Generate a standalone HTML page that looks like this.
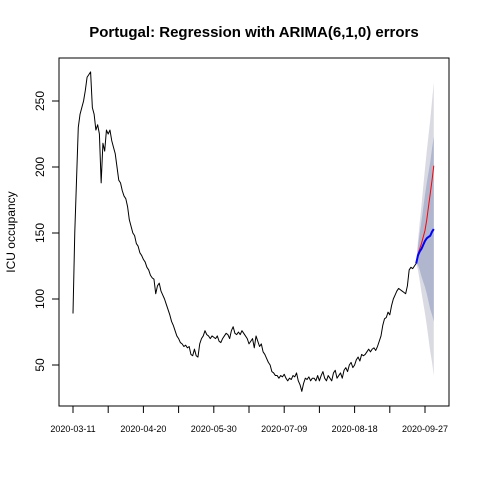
<!DOCTYPE html>
<html><head><meta charset="utf-8"><style>
body{margin:0;background:#fff}
svg{display:block;font-family:"Liberation Sans",sans-serif}
</style></head><body>
<svg id="chart" width="480" height="480">
<rect width="480" height="480" fill="#fff"/>
<text x="254" y="37" text-anchor="middle" font-size="15" font-weight="bold">Portugal: Regression with ARIMA(6,1,0) errors</text>
<text transform="translate(15,232) rotate(-90)" text-anchor="middle" font-size="12">ICU occupancy</text>
<rect x="59" y="58" width="390" height="348" fill="none" stroke="#000" stroke-width="1"/>
<g id="bands"></g><g id="lines"></g><g id="axes"></g>
</svg>
<script>
const observed=[89,150,190,230,240,245,250,258,268,270,
272,245,240,228,232,225,188,218,212,228,
225,228,220,215,210,200,190,188,182,178,
176,170,160,155,150,148,142,140,135,133,
130,128,124,122,118,116,115,104,110,112,
106,103,100,96,92,88,83,80,76,72,
70,67,66,64,65,63,64,58,57,62,
57,56,66,70,72,76,73,72,70,72,
71,70,72,68,67,70,72,74,73,70,
76,79,74,73,75,73,76,74,72,70,
66,68,70,63,72,68,64,66,60,58,
55,52,50,45,44,42,42,40,42,41,
43,40,38,40,39,42,41,44,38,35,
30,36,40,39,41,38,40,40,38,42,
38,42,45,40,38,42,40,38,44,46,
40,42,44,40,46,48,45,50,52,48,
50,54,56,53,58,57,58,60,62,60,
62,63,61,64,68,72,80,85,86,90,
88,95,100,103,106,108,107,106,105,104,
110,122,124,123,125,127];
const forecastMean=[133,136,138,141,144,146,147,148,151,153];
const actual=[134,138,142,147,152,160,170,180,190,201];
const hi80=[140,150,159,169,179,188,196,204,214,223];
const lo80=[126,122,117,113,109,104,98,92,88,83];
const hi95=[144,158,171,185,199,212,224,236,250,264];
const lo95=[122,114,105,97,89,80,70,60,52,42];
const yTicks=[50,100,150,200,250];
const xTickLabels=["2020-03-11","2020-04-20","2020-05-30","2020-07-09","2020-08-18","2020-09-27"];
const xTickDays=[0,40,80,120,160,200];
const minorDays=[20,60,100,140,180];

const NS="http://www.w3.org/2000/svg";
const X=d=>73+d*1.76;
const Y=v=>365-(v-50)*1.32;
function mk(t,a,p){const e=document.createElementNS(NS,t);for(const k in a)e.setAttribute(k,a[k]);p.appendChild(e);return e;}
const bands=document.getElementById('bands'),lines=document.getElementById('lines'),axes=document.getElementById('axes');
const n0=observed.length-1;
function band(hi,lo,fill,name){
  let pts=[[X(n0),Y(observed[n0])]];
  hi.forEach((v,i)=>pts.push([X(n0+1+i),Y(v)]));
  for(let i=lo.length-1;i>=0;i--)pts.push([X(n0+1+i),Y(lo[i])]);
  const p=mk('polygon',{points:pts.map(q=>q.join(',')).join(' '),fill:fill},bands);
  
  
}
band(hi95,lo95,'#dadae3','prediction-band-95');
band(hi80,lo80,'#b1b6cf','prediction-band-80');
function line(vals,start,col,w,name,prefix){
  let pts=prefix?[[X(n0),Y(observed[n0])]]:[];
  vals.forEach((v,i)=>pts.push([X(start+i),Y(v)]));
  const p=mk('polyline',{points:pts.map(q=>q.join(',')).join(' '),fill:'none',stroke:col,'stroke-width':w,'stroke-linejoin':'round'},lines);
  
  
}
line(observed,0,'#000',1,'observed-line',false);
line(actual,n0+1,'#ff0000',1,'actual-line',true);
line(forecastMean,n0+1,'#0000ff',2,'forecast-mean-line',true);
yTicks.forEach(v=>{
  const t=mk('line',{x1:52,x2:59,y1:Y(v),y2:Y(v),stroke:'#000'},axes);
  
  
  const l=mk('text',{transform:`translate(44,${Y(v)}) rotate(-90)`,'text-anchor':'middle','font-size':12},axes);
  l.textContent=v;
  
  
});
xTickDays.forEach((d,i)=>{
  const t=mk('line',{x1:X(d),x2:X(d),y1:406,y2:413,stroke:'#000'},axes);
  
  
  const l=mk('text',{x:X(d),y:432,'text-anchor':'middle','font-size':9},axes);
  l.textContent=xTickLabels[i];
  
  
});
minorDays.forEach(d=>{
  const t=mk('line',{x1:X(d),x2:X(d),y1:406,y2:413,stroke:'#000'},axes);
  
  
});
</script>
</body></html>
